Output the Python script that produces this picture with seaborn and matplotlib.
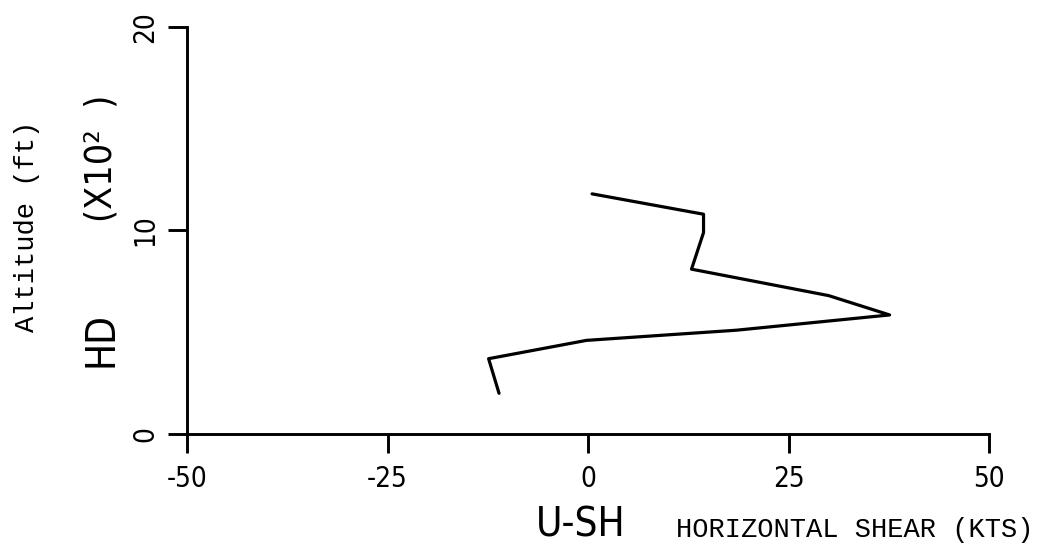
import matplotlib
matplotlib.use("Agg")
import matplotlib.pyplot as plt
import seaborn as sns
import pandas as pd

# Horizontal shear profile (kts) against altitude (hundreds of ft)
shear_kts = [0.5, 14.4, 14.4, 12.9, 30.0, 37.6, 18.5, -0.2, -12.4, -11.1]
altitude_hft = [11.8, 10.8, 9.9, 8.1, 6.8, 5.85, 5.1, 4.6, 3.7, 2.0]

x_ticks = [-50, -25, 0, 25, 50]
y_ticks = [0, 10, 20]

sns.set_style("ticks")
plt.rcParams["font.family"] = ["DejaVu Sans"]
plt.rcParams["axes.unicode_minus"] = False
plt.rcParams["text.color"] = "black"

df = pd.DataFrame({"shear": shear_kts, "alt": altitude_hft})

fig = plt.figure(figsize=(10.42, 5.49), dpi=100)
ax = fig.add_axes([0.1795, 0.2095, 0.7697, 0.7413])

sns.lineplot(data=df, x="shear", y="alt", sort=False, estimator=None,
             color="black", linewidth=2.3, ax=ax)

ax.set_xlim(-50, 50)
ax.set_ylim(0, 20)
ax.set_xticks(x_ticks)
ax.set_yticks(y_ticks)
ax.set_xlabel("")
ax.set_ylabel("")

for side in ("top", "right"):
    ax.spines[side].set_visible(False)
for side in ("left", "bottom"):
    ax.spines[side].set_linewidth(2.1)
    ax.spines[side].set_color("black")

ax.tick_params(axis="both", direction="out", length=14, width=2.1,
               colors="black", labelcolor="black")
ax.tick_params(axis="x", pad=8)
ax.tick_params(axis="y", pad=6)

sans = dict(family="DejaVu Sans", stretch="condensed", color="black")
for lab in ax.get_xticklabels():
    lab.set_fontsize(20)
    lab.set_fontstretch("condensed")
for lab in ax.get_yticklabels():
    lab.set_fontsize(20)
    lab.set_fontstretch("condensed")
    lab.set_rotation(90)
    lab.set_va("center")

mono = dict(family="Liberation Mono", fontsize=19.5, color="black")

fig.text(0.026, 0.588, "Altitude (ft)", rotation=90, ha="center",
         va="center", **mono)
fig.text(0.097, 0.381, "HD", rotation=90, ha="center", va="center",
         fontsize=29, **sans)
fig.text(0.097, 0.712, "(X10²  )", rotation=90, ha="center", va="center",
         fontsize=27, **sans)

fig.text(0.5576, 0.0219, "U-SH", ha="center", va="baseline",
         fontsize=29, **sans)
fig.text(0.8205, 0.0219, "HORIZONTAL SHEAR (KTS)", ha="center",
         va="baseline", **mono)

fig.savefig("out.png", dpi=100, facecolor="white")
